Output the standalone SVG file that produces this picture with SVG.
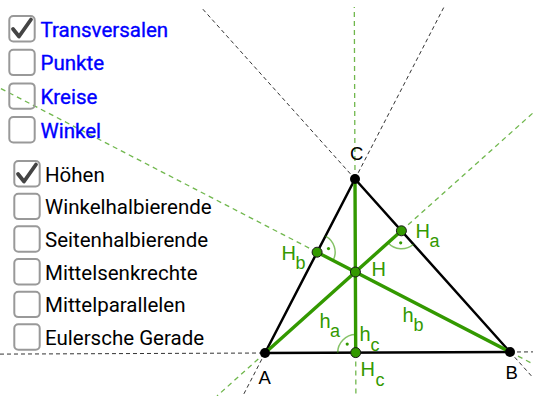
<svg xmlns="http://www.w3.org/2000/svg" width="533" height="396" viewBox="0 0 533 396">
<style>
.bg{fill:#fff}
.ext{stroke:#333;stroke-width:1;stroke-dasharray:4,3;fill:none}
.gext{stroke:#339900;stroke-opacity:.7;stroke-width:1.3;stroke-dasharray:5,4;fill:none}
.side{stroke:#000;stroke-width:2.5;fill:none;stroke-linecap:round}
.alt{stroke:#339900;stroke-width:3.4;fill:none;stroke-linecap:round}
.arc{stroke:#339900;stroke-opacity:.6;stroke-width:1.5;fill:none}
.dot{fill:#339900}
.pt{fill:#000}
.gpt{fill:#339900;stroke:#1a1a1a;stroke-width:1}
.lbl{font-family:"Liberation Sans",Arial,sans-serif;font-size:18.5px;fill:#000}
.glbl{font-family:"Liberation Sans",Arial,sans-serif;font-size:20px;fill:#339900}
.sub{font-size:18px}
.box{fill:none;stroke:#999;stroke-width:2}
.chk{fill:none;stroke:#444;stroke-width:3.8;stroke-linecap:round;stroke-linejoin:round}
.cb1{font-family:Roboto,"Liberation Sans",sans-serif;font-size:20.5px;fill:#0000ff;stroke:#0000ff;stroke-width:0.35}
.cb2{font-family:Roboto,"Liberation Sans",sans-serif;font-size:20.5px;fill:#000}
</style>
<rect class="bg" x="0" y="0" width="533" height="396"/>

<g id="connectors">
  <line class="ext" x1="0" y1="354.1" x2="265" y2="353"/>
  <line class="ext" x1="510" y1="352" x2="533" y2="351.9"/>
  <line class="ext" x1="355" y1="179" x2="200.9" y2="7"/>
  <line class="ext" x1="510" y1="352" x2="533" y2="377.7"/>
  <line class="ext" x1="355" y1="179" x2="444" y2="7"/>
  <line class="ext" x1="265" y1="353" x2="242.8" y2="396"/>
  <line class="gext" x1="401.4" y1="230.8" x2="533" y2="112.9"/>
  <line class="gext" x1="265" y1="353" x2="217" y2="396"/>
  <line class="gext" x1="317.1" y1="252.2" x2="0" y2="88.1"/>
  <line class="gext" x1="510" y1="352" x2="533" y2="363.9"/>
  <line class="gext" x1="355" y1="179" x2="354.3" y2="7"/>
  <line class="gext" x1="355.7" y1="352.6" x2="355.9" y2="396"/>
  <line id="side-c" class="side" x1="265" y1="353" x2="510" y2="352"/>
  <line id="side-a" class="side" x1="510" y1="352" x2="355" y2="179"/>
  <line id="side-b" class="side" x1="355" y1="179" x2="265" y2="353"/>
  <line id="h-a" class="alt" x1="265" y1="353" x2="401.4" y2="230.8"/>
  <line id="h-b" class="alt" x1="510" y1="352" x2="317.1" y2="252.2"/>
  <line id="h-c" class="alt" x1="355" y1="179" x2="355.7" y2="352.6"/>
  <path class="arc" d="M325.4,236.2 A18,18 0 0 1 333.1,260.5"/>
  <circle class="dot" cx="328.5" cy="248.6" r="1.6"/>
  <path class="arc" d="M413.4,244.2 A18,18 0 0 1 388,242.8"/>
  <circle class="dot" cx="400.7" cy="242.8" r="1.6"/>
  <path class="arc" d="M337.7,352.7 A18,18 0 0 1 355.6,334.6"/>
  <circle class="dot" cx="347.2" cy="344.1" r="1.6"/>
  <text class="glbl" x="319.5" y="328">h<tspan class="sub" x="330" y="337">a</tspan></text>
  <text class="glbl" x="402.5" y="322">h<tspan class="sub" x="413.5" y="330.5">b</tspan></text>
  <text class="glbl" x="359.5" y="340.5">h<tspan class="sub" x="370.5" y="350.5">c</tspan></text>
</g>

<g id="node-A"><circle class="pt" cx="265" cy="353" r="5"/><text class="lbl" x="258.5" y="384">A</text></g>
<g id="node-B"><circle class="pt" cx="510" cy="352" r="5"/><text class="lbl" x="505.5" y="378.5">B</text></g>
<g id="node-C"><circle class="pt" cx="355" cy="179" r="5"/><text class="lbl" x="350" y="159.5">C</text></g>
<g id="node-H"><circle class="gpt" cx="355.4" cy="272" r="5"/><text class="glbl" x="371.5" y="275.5">H</text></g>
<g id="node-Ha"><circle class="gpt" cx="401.4" cy="230.8" r="5"/><text class="glbl" x="415.5" y="238">H<tspan class="sub" x="429.5" y="247">a</tspan></text></g>
<g id="node-Hb"><circle class="gpt" cx="317.1" cy="252.2" r="5"/><text class="glbl" x="281.5" y="260">H<tspan class="sub" x="295.5" y="268.5">b</tspan></text></g>
<g id="node-Hc"><circle class="gpt" cx="355.7" cy="352.6" r="5"/><text class="glbl" x="360.5" y="375.5">H<tspan class="sub" x="375.5" y="385.5">c</tspan></text></g>

<g id="cb-transversalen"><rect class="box" x="9.3" y="16" width="25.4" height="25.4" rx="4"/><path class="chk" d="M13,29 L19,36.5 L31,19.5"/><text class="cb1" x="40.5" y="36.5">Transversalen</text></g>
<g id="cb-punkte"><rect class="box" x="9.3" y="49.7" width="25.4" height="25.4" rx="4"/><text class="cb1" x="40.5" y="70.2">Punkte</text></g>
<g id="cb-kreise"><rect class="box" x="9.3" y="83.4" width="25.4" height="25.4" rx="4"/><text class="cb1" x="40.5" y="103.9">Kreise</text></g>
<g id="cb-winkel"><rect class="box" x="9.3" y="117.1" width="25.4" height="25.4" rx="4"/><text class="cb1" x="40.5" y="137.6">Winkel</text></g>

<g id="cb-hoehen"><rect class="box" x="14.3" y="161" width="25.4" height="25.4" rx="4"/><path class="chk" d="M18,174 L24,181.5 L36,164.5"/><text class="cb2" x="45" y="181.7">Höhen</text></g>
<g id="cb-winkelhalbierende"><rect class="box" x="14.3" y="193.7" width="25.4" height="25.4" rx="4"/><text class="cb2" x="45" y="214.4">Winkelhalbierende</text></g>
<g id="cb-seitenhalbierende"><rect class="box" x="14.3" y="226.3" width="25.4" height="25.4" rx="4"/><text class="cb2" x="45" y="247">Seitenhalbierende</text></g>
<g id="cb-mittelsenkrechte"><rect class="box" x="14.3" y="259" width="25.4" height="25.4" rx="4"/><text class="cb2" x="45" y="279.7">Mittelsenkrechte</text></g>
<g id="cb-mittelparallelen"><rect class="box" x="14.3" y="291.7" width="25.4" height="25.4" rx="4"/><text class="cb2" x="45" y="312.4">Mittelparallelen</text></g>
<g id="cb-euler"><rect class="box" x="14.3" y="324.3" width="25.4" height="25.4" rx="4"/><text class="cb2" x="45" y="345">Eulersche Gerade</text></g>
</svg>
